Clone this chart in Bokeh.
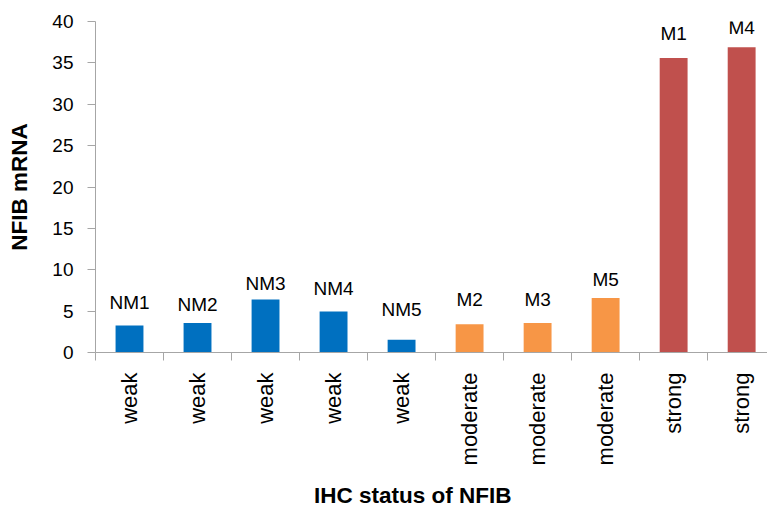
import math

from bokeh.core.properties import value
from bokeh.embed import file_html
from bokeh.models import ColumnDataSource, FixedTicker, Range1d
from bokeh.plotting import figure
from bokeh.resources import INLINE

# Samples, their IHC staining class and measured NFIB mRNA level
samples = ["NM1", "NM2", "NM3", "NM4", "NM5", "M2", "M3", "M5", "M1", "M4"]
ihc_status = ["weak", "weak", "weak", "weak", "weak",
              "moderate", "moderate", "moderate", "strong", "strong"]
nfib_mrna = [3.26, 3.55, 6.4, 4.95, 1.53, 3.4, 3.55, 6.6, 35.6, 36.9]

status_colors = {"weak": "#0070C0", "moderate": "#F79646", "strong": "#C0504D"}
# pixel gap between each bar top and its sample label
label_gap = [13, 8, 6, 13, 20, 14, 13, 8, 14, 9]

FONT = "Liberation Sans"
AXIS_GREY = "#A6A6A6"

xs = list(range(len(samples)))
source = ColumnDataSource(dict(
    x=xs,
    top=nfib_mrna,
    name=samples,
    color=[status_colors[s] for s in ihc_status],
    lift=[-g for g in label_gap],
))

p = figure(
    width=767, height=511,
    x_range=Range1d(-0.5, 9.38), y_range=Range1d(0, 40),
    output_backend="svg", toolbar_location=None,
    min_border_left=95, min_border_right=0,
    min_border_top=21, min_border_bottom=159,
)
p.outline_line_color = None
p.background_fill_color = "white"
p.border_fill_color = "white"
p.xgrid.visible = False
p.ygrid.visible = False

p.vbar(x="x", top="top", bottom=0, width=0.41, color="color",
       line_color=None, source=source)

p.text(x="x", y="top", text="name", y_offset="lift",
       text_align="center", text_baseline="bottom",
       text_font=value(FONT), text_font_size="19px", text_color="black",
       source=source)

# y axis
p.yaxis.ticker = FixedTicker(ticks=list(range(0, 41, 5)))
p.yaxis.axis_line_color = AXIS_GREY
p.yaxis.major_tick_line_color = AXIS_GREY
p.yaxis.major_tick_out = 8
p.yaxis.major_tick_in = 0
p.yaxis.minor_tick_line_color = None
p.yaxis.major_label_standoff = 14
p.yaxis.major_label_text_font = FONT
p.yaxis.major_label_text_font_size = "19px"
p.yaxis.major_label_text_color = "black"
p.yaxis.axis_label = "NFIB mRNA"
p.yaxis.axis_label_text_font = FONT
p.yaxis.axis_label_text_font_size = "22.5px"
p.yaxis.axis_label_text_font_style = "bold"
p.yaxis.axis_label_text_color = "black"
p.yaxis.axis_label_standoff = 17

# x axis: labels at bar centres, tick marks between bars
p.xaxis.ticker = FixedTicker(ticks=xs, minor_ticks=[i - 0.5 for i in range(len(xs) + 1)])
p.xaxis.major_label_overrides = {i: s for i, s in enumerate(ihc_status)}
p.xaxis.major_label_orientation = math.pi / 2
p.xaxis.axis_line_color = AXIS_GREY
p.xaxis.major_tick_out = 0
p.xaxis.major_tick_in = 0
p.xaxis.minor_tick_out = 8
p.xaxis.minor_tick_in = 0
p.xaxis.minor_tick_line_color = AXIS_GREY
p.xaxis.major_label_standoff = 12
p.xaxis.major_label_text_font = FONT
p.xaxis.major_label_text_font_size = "22px"
p.xaxis.major_label_text_color = "black"
# trailing no-break spaces nudge the centred title a little to the left
p.xaxis.axis_label = "IHC status of NFIB" + "\u00a0" * 6
p.xaxis.axis_label_text_font = FONT
p.xaxis.axis_label_text_font_size = "22.5px"
p.xaxis.axis_label_text_font_style = "bold"
p.xaxis.axis_label_text_color = "black"
p.xaxis.axis_label_standoff = 15

open("out.html", "w").write(file_html(p, INLINE))
